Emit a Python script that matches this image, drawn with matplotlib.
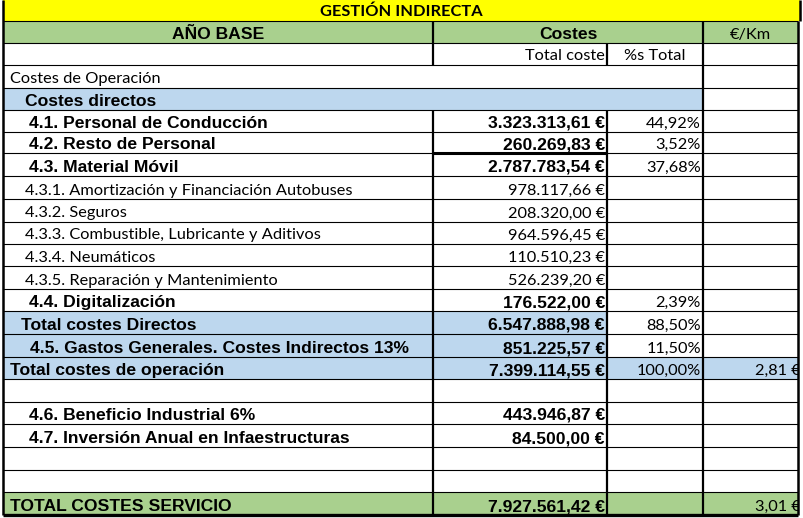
import matplotlib
matplotlib.use("Agg")
import matplotlib.pyplot as plt
from matplotlib.patches import Rectangle

# --- data -----------------------------------------------------------------
title = "GESTIÓN INDIRECTA"
header = ["AÑO BASE", "Costes", "€/Km"]
subheader = ["Total coste", "%s Total"]

row_labels = [
    "Costes de Operación",
    "Costes directos",
    "4.1. Personal de Conducción",
    "4.2. Resto de Personal",
    "4.3. Material Móvil",
    "4.3.1. Amortización y Financiación Autobuses",
    "4.3.2. Seguros",
    "4.3.3. Combustible, Lubricante y Aditivos",
    "4.3.4. Neumáticos",
    "4.3.5. Reparación y Mantenimiento",
    "4.4. Digitalización",
    "Total costes Directos",
    "4.5. Gastos Generales. Costes Indirectos 13%",
    "Total costes de operación",
    "",
    "4.6. Beneficio Industrial 6%",
    "4.7. Inversión Anual en Infaestructuras",
    "",
    "",
    "TOTAL COSTES SERVICIO",
]
costs = [None, None, 3323313.61, 260269.83, 2787783.54, 978117.66, 208320.00,
         964596.45, 110510.23, 526239.20, 176522.00, 6547888.98, 851225.57,
         7399114.55, None, 443946.87, 84500.00, None, None, 7927561.42]
pcts = [None, None, 44.92, 3.52, 37.68, None, None, None, None, None, 2.39,
        88.50, 11.50, 100.00, None, None, None, None, None, None]
eur_km = [None] * 13 + [2.81] + [None] * 5 + [3.01]

# --- layout / style --------------------------------------------------------
YELLOW = "#ffff00"
GREEN = "#a9d08e"
BLUE = "#bdd7ee"
W = "white"

col_x = [3, 433, 607, 703, 798]
row_y = [65, 88, 110, 132, 153, 176, 199, 222, 244, 266, 289, 311, 334, 357,
         379, 402, 424, 447, 470, 492, 515]
bold = [False, True, True, True, True, False, False, False, False, False,
        True, True, True, True, False, True, True, False, False, True]
indent = [7, 22, 26, 26, 26, 22, 22, 22, 22, 22, 26, 18, 27, 7, 7, 26, 26, 7, 7, 7]
fills = [(W, W, W, W), (BLUE, BLUE, BLUE, W)] + [(W, W, W, W)] * 9 + \
        [(BLUE, BLUE, W, W), (BLUE, BLUE, W, W), (BLUE, BLUE, BLUE, BLUE)] + \
        [(W, W, W, W)] * 5 + [(GREEN, GREEN, GREEN, GREEN)]

ARIAL = "Liberation Sans"
CALIBRI = "Lato"
FS = 12.6
FS_C = 11.8


def fmt_eur(v):
    s = f"{v:,.2f}".replace(",", "X").replace(".", ",").replace("X", ".")
    return s + " €"


def fmt_pct(v):
    return f"{v:.2f}".replace(".", ",") + "%"


fig = plt.figure(figsize=(8.04, 5.18), dpi=100)
ax = fig.add_axes([0, 0, 1, 1])
ax.set_xlim(0, 804)
ax.set_ylim(518, 0)
ax.axis("off")


def cell(x0, x1, y0, y1, color):
    ax.add_patch(Rectangle((x0, y0), x1 - x0, y1 - y0, facecolor=color,
                           edgecolor="none", zorder=1))


# title row
cell(col_x[0], 800, 0, 21, YELLOW)
ax.text((col_x[0] + 800) / 2, 21 - 4.5, title, ha="center", va="baseline",
        fontsize=FS_C, fontweight="bold", family=CALIBRI, zorder=3)

# header row
cell(col_x[0], col_x[4], 21, 43, GREEN)
ax.text((col_x[0] + col_x[1]) / 2, 43 - 4, header[0], ha="center", va="baseline",
        fontsize=FS, fontweight="bold", family=ARIAL, zorder=3)
ax.text((col_x[1] + col_x[3]) / 2, 43 - 4, header[1], ha="center", va="baseline",
        fontsize=FS, fontweight="bold", family=ARIAL, zorder=3)
ax.text((col_x[3] + col_x[4]) / 2, 43 - 4.5, header[2], ha="center", va="baseline",
        fontsize=FS_C, family=CALIBRI, zorder=3)

# sub header
ax.text(col_x[2] - 2, 65 - 4.5, subheader[0], ha="right", va="baseline",
        fontsize=FS_C, family=CALIBRI, zorder=3)
ax.text((col_x[2] + col_x[3]) / 2, 65 - 4.5, subheader[1], ha="center",
        va="baseline", fontsize=FS_C, family=CALIBRI, zorder=3)

# body rows
for i, lab in enumerate(row_labels):
    y0, y1 = row_y[i], row_y[i + 1]
    for j in range(4):
        cell(col_x[j], col_x[j + 1], y0, y1, fills[i][j])
    fam = ARIAL if bold[i] else CALIBRI
    fs = FS if bold[i] else FS_C
    fw = "bold" if bold[i] else "normal"
    base = y1 - (4 if bold[i] else 4.5)
    if lab:
        ax.text(col_x[0] + indent[i], base, lab, ha="left", va="baseline",
                fontsize=fs, fontweight=fw, family=fam, zorder=3)
    if costs[i] is not None:
        ax.text(col_x[2] - 2, base, fmt_eur(costs[i]), ha="right", va="baseline",
                fontsize=fs, fontweight=fw, family=fam, zorder=3)
    if pcts[i] is not None:
        ax.text(col_x[3] - 2, y1 - 4.5, fmt_pct(pcts[i]), ha="right",
                va="baseline", fontsize=FS_C, family=CALIBRI, zorder=3)
    if eur_km[i] is not None:
        ax.text(col_x[4] + 3, y1 - 4.5, fmt_eur(eur_km[i]), ha="right",
                va="baseline", fontsize=FS_C, family=CALIBRI, zorder=3)

# horizontal grid lines
ax.hlines([21, 43] + row_y[:-1], col_x[0], col_x[4], color="black", lw=0.8, zorder=4)
ax.hlines(153, col_x[1], col_x[2], color="black", lw=2.2, zorder=4)

# vertical lines (merged cells leave gaps)
for k, x in enumerate(col_x[1:4], start=1):
    segs = [(21, 65)] if k in (1, 3) else [(43, 65)]
    segs.append((65, 515) if k == 3 else (110, 515))
    for a, b in segs:
        ax.vlines(x, a, b, color="black", lw=1.6, zorder=4)

# outer border
ax.vlines(col_x[0], 0, 515, color="black", lw=1.8, zorder=5)
ax.vlines(col_x[4], 21, 515, color="black", lw=1.8, zorder=5)
ax.vlines(800, 0, 21, color="black", lw=1.8, zorder=5)
ax.hlines(515, col_x[0], col_x[4], color="black", lw=2.4, zorder=5)

# clip the right part of the €/Km values like the screenshot
ax.add_patch(Rectangle((col_x[4] + 1, 21), 10, 500, facecolor="white",
                       edgecolor="none", zorder=3.5))

fig.savefig("out.png", dpi=100)
